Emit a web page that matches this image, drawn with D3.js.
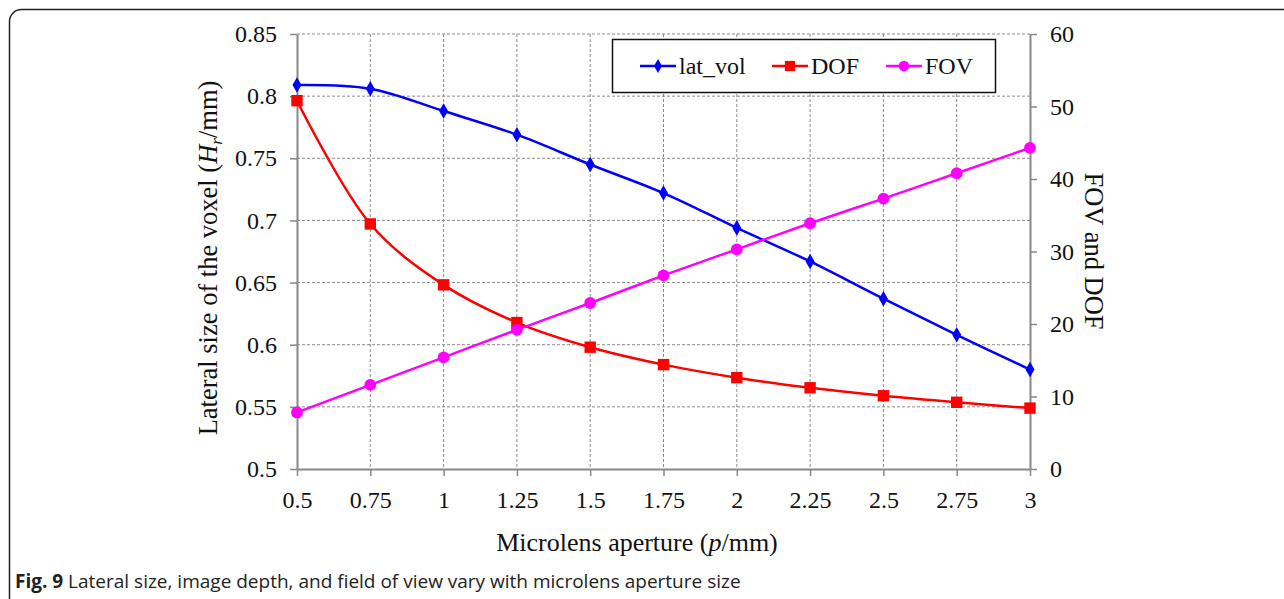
<!DOCTYPE html>
<html><head><meta charset="utf-8">
<script src="https://cdn.jsdelivr.net/npm/d3@7/dist/d3.min.js"></script>
<style>body{margin:0;background:#fff}svg{display:block}</style>
</head><body>
<svg id="c" width="1284" height="599"></svg>
<script>
const aperture = [0.5, 0.75, 1, 1.25, 1.5, 1.75, 2, 2.25, 2.5, 2.75, 3];
const latVol = [0.809, 0.806, 0.788, 0.769, 0.745, 0.722, 0.694, 0.667, 0.637, 0.608, 0.580];
const dof = [50.8, 33.8, 25.4, 20.2, 16.8, 14.4, 12.6, 11.2, 10.1, 9.2, 8.4];
const fov = [7.8, 11.6, 15.4, 19.2, 22.9, 26.7, 30.3, 33.9, 37.3, 40.8, 44.3];
const xTicks = [0.5, 0.75, 1, 1.25, 1.5, 1.75, 2, 2.25, 2.5, 2.75, 3];
const yLeftTicks = [0.5, 0.55, 0.6, 0.65, 0.7, 0.75, 0.8, 0.85];
const yRightTicks = [0, 10, 20, 30, 40, 50, 60];
const seriesNames = ["lat_vol", "DOF", "FOV"];

const svg = d3.select("#c");
const L = 297, R = 1030, T = 34, B = 469;
const x = d3.scaleLinear().domain([0.5, 3]).range([L, R]);
const yL = d3.scaleLinear().domain([0.5, 0.85]).range([B, T]);
const yR = d3.scaleLinear().domain([0, 60]).range([B, T]);
const serif = "'Liberation Serif','Times New Roman',serif";

// outer rounded frame
svg.append("rect").attr("x", 9.5).attr("y", 9.5).attr("width", 1320).attr("height", 640)
  .attr("rx", 12).attr("fill", "none").attr("stroke", "#222").attr("stroke-width", 1.5);

// grid
const grid = svg.append("g").attr("stroke", "#8c8c8c").attr("stroke-width", 1).attr("stroke-dasharray", "3,2");
yLeftTicks.slice(1).forEach(v => grid.append("line").attr("x1", L).attr("x2", R).attr("y1", yL(v)).attr("y2", yL(v)));
xTicks.slice(1, -1).forEach(v => grid.append("line").attr("x1", x(v)).attr("x2", x(v)).attr("y1", T).attr("y2", B));

// axes
const axStyle = g => {
  g.select(".domain").attr("stroke", "#888").attr("stroke-width", 2);
  g.selectAll(".tick line").attr("stroke", "#888").attr("stroke-width", 1.5);
  g.selectAll("text").attr("font-family", serif).attr("font-size", 24).attr("fill", "#111");
};
svg.append("g").attr("transform", `translate(${L},0)`)
  .call(d3.axisLeft(yL).tickValues(yLeftTicks).tickSize(7).tickSizeOuter(0).tickPadding(13).tickFormat(d => String(+d.toFixed(2))))
  .call(axStyle);
svg.append("g").attr("transform", `translate(${R},0)`)
  .call(d3.axisRight(yR).tickValues(yRightTicks).tickSize(7).tickSizeOuter(0).tickPadding(13))
  .call(axStyle);
svg.append("g").attr("transform", `translate(0,${B})`)
  .call(d3.axisBottom(x).tickValues(xTicks).tickSize(7).tickSizeOuter(0).tickPadding(15).tickFormat(d => String(+d.toFixed(2))))
  .call(axStyle);

// axis titles
svg.append("text").attr("x", 637).attr("y", 551).attr("text-anchor", "middle")
  .attr("font-family", serif).attr("font-size", 26).attr("fill", "#111")
  .call(t => { t.append("tspan").text("Microlens aperture ("); t.append("tspan").attr("font-style", "italic").text("p"); t.append("tspan").text("/mm)"); });
const lt = svg.append("text").attr("transform", "translate(217,258) rotate(-90)").attr("text-anchor", "middle")
  .attr("font-family", serif).attr("font-size", 26.5).attr("fill", "#111");
lt.append("tspan").text("Lateral size of the voxel (");
lt.append("tspan").attr("font-style", "italic").text("H");
lt.append("tspan").attr("font-style", "italic").attr("font-size", 17).attr("dy", 5).text("r");
lt.append("tspan").attr("dy", -5).text("/mm)");
svg.append("text").attr("transform", "translate(1085,251) rotate(90)").attr("text-anchor", "middle")
  .attr("font-family", serif).attr("font-size", 26.5).attr("fill", "#111").text("FOV and DOF");

// series
const colors = ["#0000ff", "#ff0000", "#ff00ff"];
const data = [
  aperture.map((a, i) => [x(a), yL(latVol[i])]),
  aperture.map((a, i) => [x(a), yR(dof[i])]),
  aperture.map((a, i) => [x(a), yR(fov[i])])
];
const line = d3.line().curve(d3.curveCatmullRom.alpha(0.5));
const sym = [d3.symbolDiamond, d3.symbolSquare, d3.symbolCircle];
const sizes = [70, 130, 110];
data.forEach((pts, k) => {
  svg.append("path").attr("d", line(pts)).attr("fill", "none").attr("stroke", colors[k]).attr("stroke-width", 2.5);
});
data.forEach((pts, k) => {
  svg.append("g").selectAll("path").data(pts).join("path")
    .attr("transform", d => `translate(${d[0]},${d[1]})`)
    .attr("d", d3.symbol().type(sym[k]).size(sizes[k])).attr("fill", colors[k]);
});

// legend
svg.append("rect").attr("x", 612.5).attr("y", 39.5).attr("width", 383).attr("height", 53)
  .attr("fill", "#fff").attr("stroke", "#111").attr("stroke-width", 1.5);
const legX = [640, 772, 886];
seriesNames.forEach((n, k) => {
  const g = svg.append("g").attr("transform", `translate(${legX[k]},66)`);
  g.append("line").attr("x1", 0).attr("x2", 36).attr("stroke", colors[k]).attr("stroke-width", 2.5);
  g.append("path").attr("transform", "translate(18,0)").attr("d", d3.symbol().type(sym[k]).size(sizes[k] * 0.8)).attr("fill", colors[k]);
  g.append("text").attr("x", 39).attr("y", 8).attr("font-family", serif).attr("font-size", 24).attr("fill", "#111").text(n);
});

// caption
const cap = svg.append("text").attr("x", 15).attr("y", 588).attr("font-family", "'Open Sans',sans-serif")
  .attr("font-size", 19).attr("fill", "#222");
cap.append("tspan").attr("font-weight", "bold").text("Fig. 9");
cap.append("tspan").text(" Lateral size, image depth, and field of view vary with microlens aperture size");
</script>
</body></html>
